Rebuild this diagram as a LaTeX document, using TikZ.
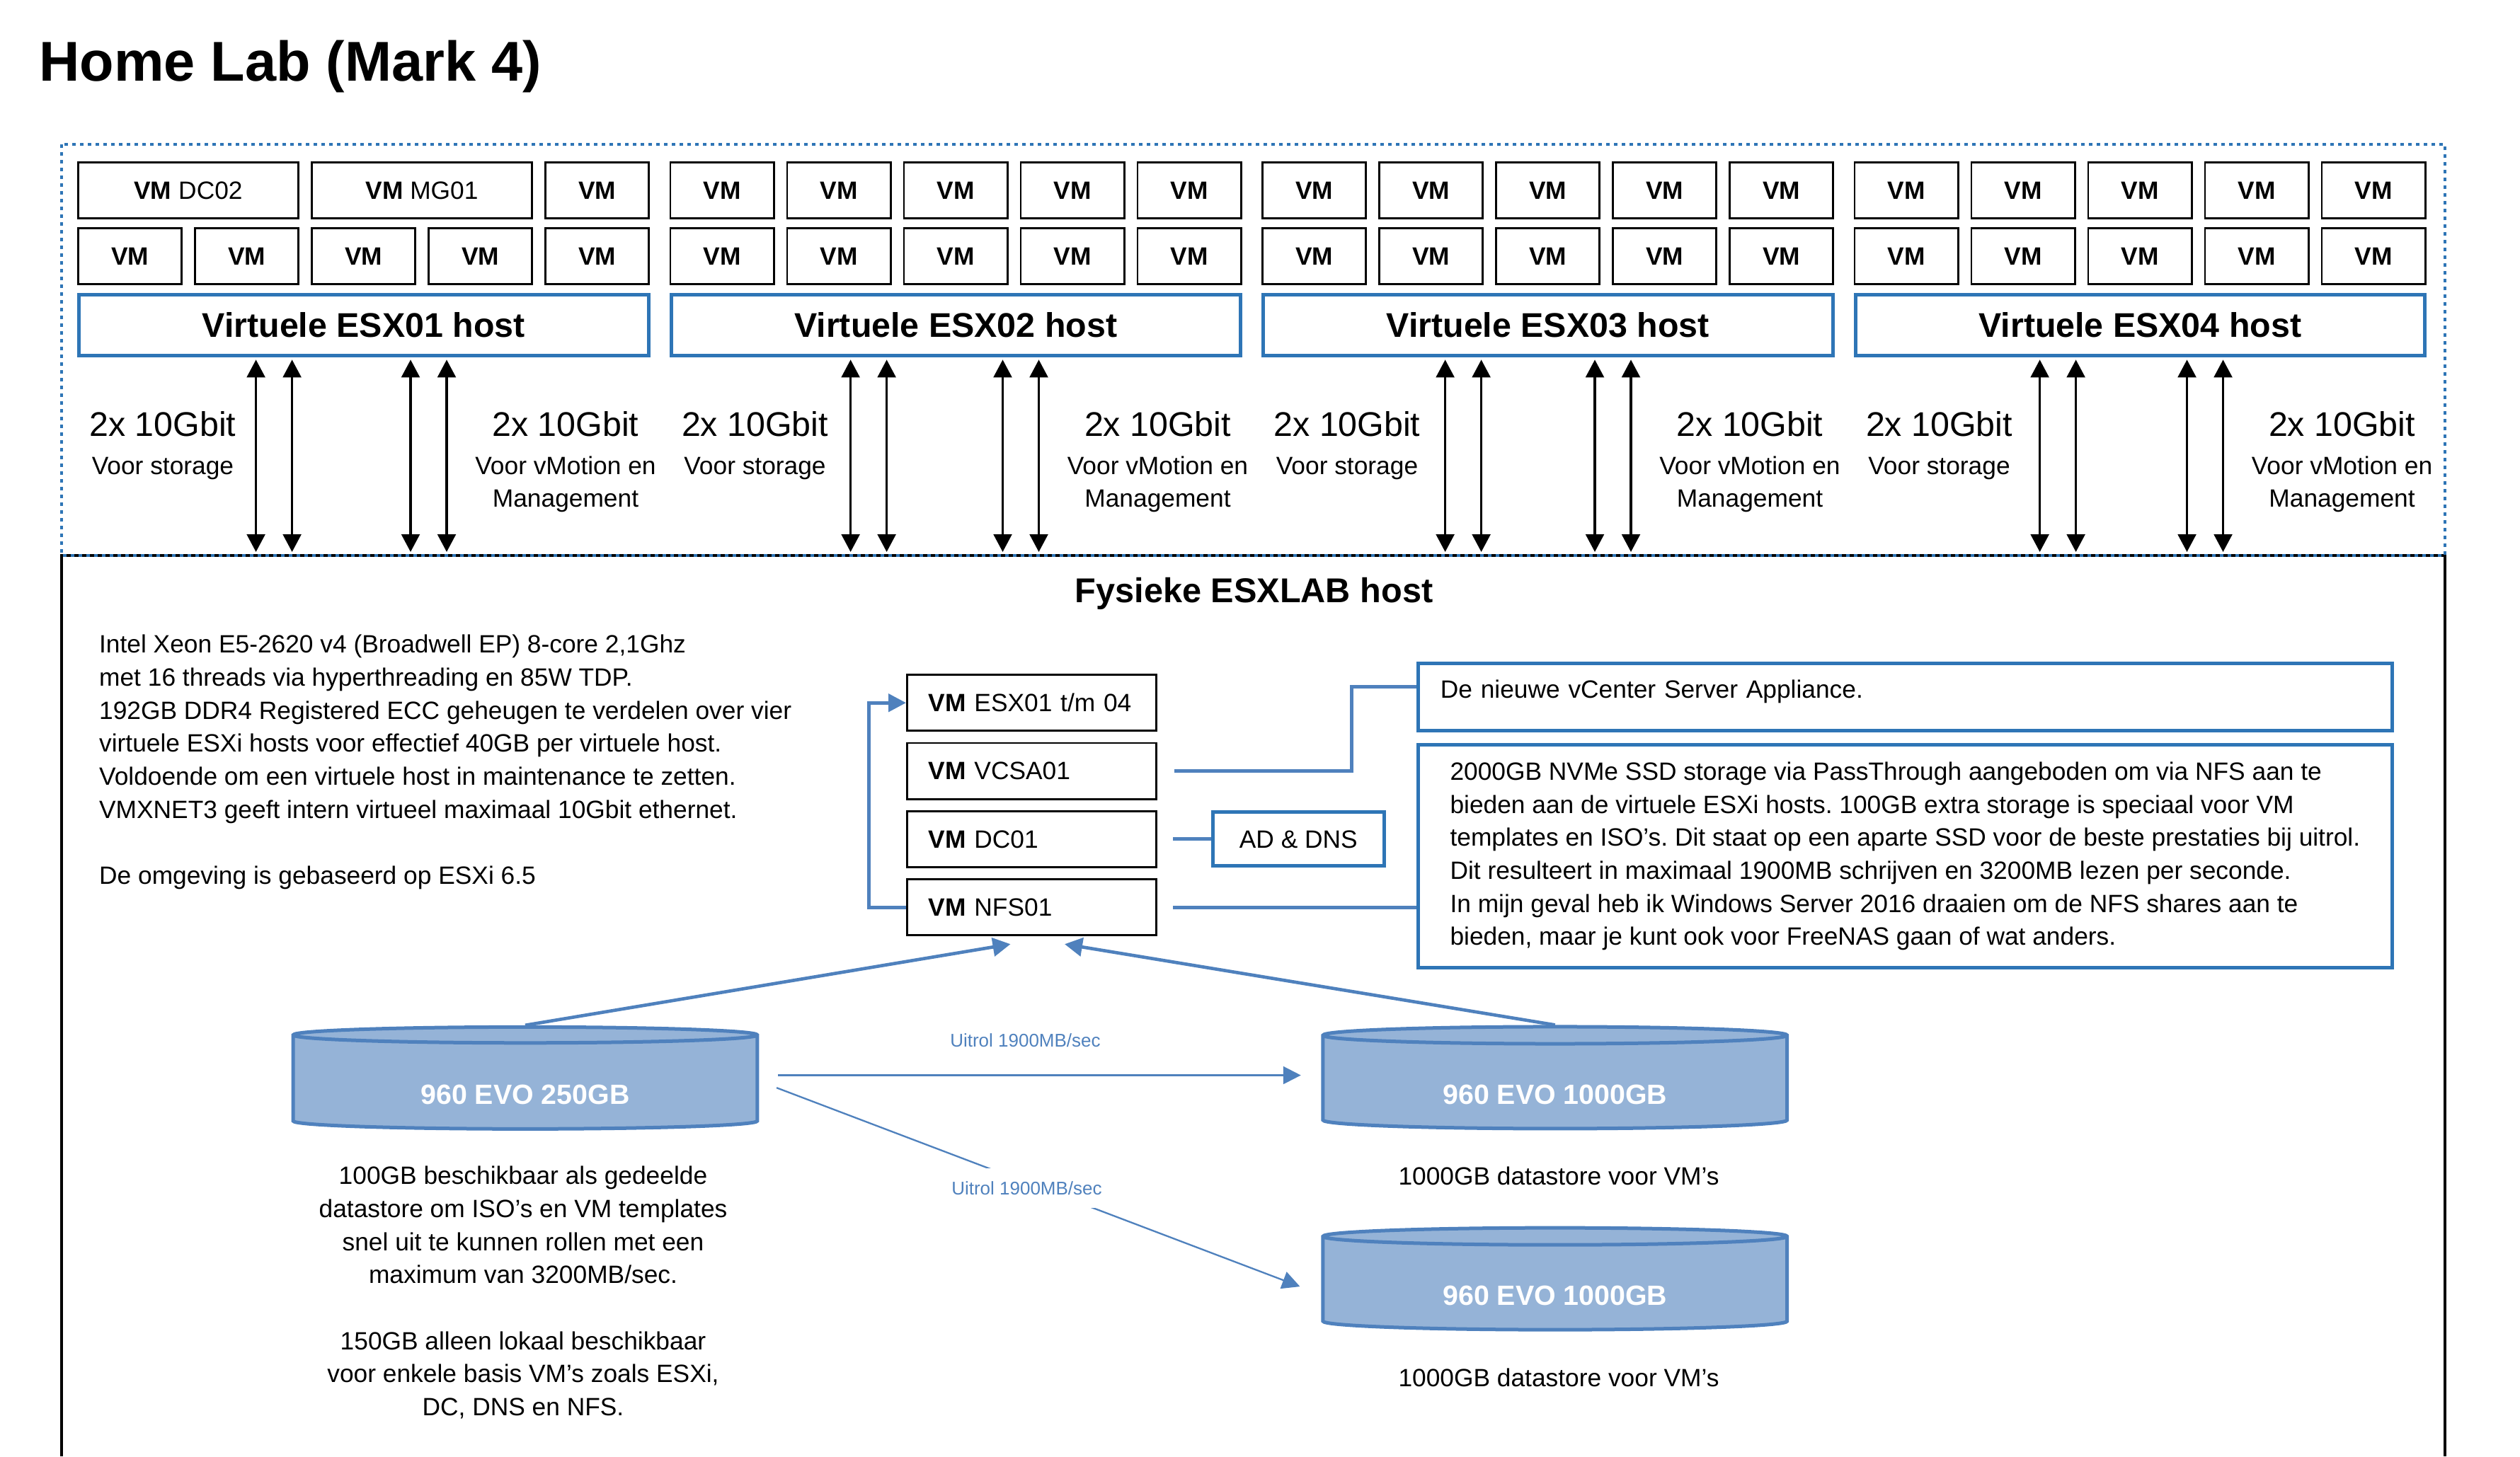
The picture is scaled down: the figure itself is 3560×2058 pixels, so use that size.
\documentclass[tikz,border=0pt]{standalone}
\usepackage{fontspec}
\setmainfont{Liberation Sans}
\usetikzlibrary{positioning, calc, arrows.meta, shapes.geometric}
\definecolor{hostblue}{RGB}{46,117,182}
\definecolor{linkblue}{RGB}{79,129,189}
\definecolor{diskblue}{RGB}{149,179,215}
\frenchspacing

\begin{document}
\begin{tikzpicture}[x=0.3pt, y=-0.3pt,
vmbox/.style={rectangle, draw=black, line width=0.85pt, minimum width=43.85pt,
minimum height=23.75pt, inner sep=0pt, font=\fontsize{10.6pt}{12pt}\selectfont},
hostbox/.style={rectangle, draw=hostblue, line width=1.5pt, minimum width=241.35pt,
minimum height=25.8pt, inner sep=0pt, font=\fontsize{14.5pt}{17pt}\selectfont\bfseries},
netarrow/.style={{Triangle[length=7.5pt,width=7.7pt]}-{Triangle[length=7.5pt,width=7.7pt]},
line width=1pt, shorten <=1pt, shorten >=1.5pt},
gbit/.style={anchor=base, inner sep=0pt, font=\fontsize{14.5pt}{17pt}\selectfont},
sublabel/.style={anchor=base, inner sep=0pt, font=\fontsize{10.6pt}{13pt}\selectfont},
bodytext/.style={inner sep=0pt, align=left, font=\fontsize{10.6pt}{14pt}\selectfont},
stackbox/.style={rectangle, draw=black, line width=0.85pt, minimum width=105.65pt,
minimum height=23.75pt, inner sep=0pt, text width=87.5pt, align=left,
font=\fontsize{10.6pt}{12pt}\selectfont},
infobox/.style={rectangle, draw=hostblue, line width=1.5pt, inner sep=0pt,
font=\fontsize{10.6pt}{14pt}\selectfont},
link/.style={linkblue, line width=1.5pt},
flow/.style={linkblue, line width=1.4pt, -{Triangle[length=7.5pt,width=7.8pt]}},
thinflow/.style={linkblue, line width=0.7pt, -{Triangle[length=7.5pt,width=7.5pt]}},
disk/.style={cylinder, shape border rotate=90, aspect=0.076, draw=linkblue, fill=diskblue,
line width=1.5pt, minimum width=196.7pt, minimum height=43.2pt, inner sep=0pt,
text height=18pt, text depth=0pt,
text=white, font=\fontsize{11.8pt}{14pt}\selectfont\bfseries},
uitrol/.style={inner sep=0pt, text=linkblue, font=\fontsize{7.8pt}{9pt}\selectfont}
]
\useasboundingbox (0,0) rectangle (3560,2058);

% Title
\node[anchor=base west, inner sep=0pt, font=\fontsize{23.8pt}{28pt}\selectfont\bfseries]
(title) at (54.6,114.3) {Home Lab (Mark 4)};

% Frames
\coordinate (phystop) at (87,785);
\draw[line width=1.3pt] (87,2058) -- (phystop) -- (3454,785) -- (3454,2058);
\draw[hostblue, line width=1.2pt, dash pattern=on 1.4pt off 1.9pt] (87.4,204) rectangle (3454,785);

% Virtual hosts
\foreach \i in {0,...,3} {
  \pgfmathsetmacro\L{109+836.5*\i}
  \pgfmathtruncatemacro\n{\i+1}
  \node[hostbox] (host\n) at (\L+404.75,459.5) {Virtuele ESX0\n\ host};
  \foreach \j in {0,...,4} {
    \node[vmbox] (vmb\n\j) at (\L+74.5+165*\j,362) {\textbf{VM}};
  }
  \ifnum\n>1
    \foreach \j in {0,...,4} {
      \node[vmbox] (vma\n\j) at (\L+74.5+165*\j,269) {\textbf{VM}};
    }
  \fi
  % Network links
  \pgfmathsetmacro\s{252.6+3.5*\i}
  \foreach \dx in {\s, \s+51, 471, 522} {
    \draw[netarrow] ([xshift={(\dx)*0.3pt}]host\n.south west)
      -- ([xshift={(\dx)*0.3pt}]host\n.south west |- phystop);
  }
  \node[gbit] (gbs\n) at (\L+121,616) {2x 10Gbit};
  \node[sublabel] (stor\n) at (\L+121,670) {Voor storage};
  \node[gbit] (gbm\n) at (\L+690,616) {2x 10Gbit};
  \node[sublabel] (vmot\n) at (\L+690,670) {Voor vMotion en};
  \node[sublabel] (mgmt\n) at (\L+690,716) {Management};
}
\node[vmbox, minimum width=93.35pt] (dc02) at (266,269) {\textbf{VM} DC02};
\node[vmbox, minimum width=93.35pt] (mg01) at (596,269) {\textbf{VM} MG01};
\node[vmbox] (vma14) at (843.5,269) {\textbf{VM}};

% Physical host
\node[anchor=base, inner sep=0pt, font=\fontsize{14.6pt}{17pt}\selectfont\bfseries]
(phystitle) at (1771.5,851.7) {Fysieke ESXLAB host};

\node[bodytext, anchor=base west] (cpu) at (139.5,1249.5)
{Intel Xeon E5-2620 v4 (Broadwell EP) 8-core 2,1Ghz\\
met 16 threads via hyperthreading en 85W TDP.\\
192GB DDR4 Registered ECC geheugen te verdelen over vier\\
virtuele ESXi hosts voor effectief 40GB per virtuele host.\\
Voldoende om een virtuele host in maintenance te zetten.\\
VMXNET3 geeft intern virtueel maximaal 10Gbit ethernet.\\[14pt]
De omgeving is gebaseerd op ESXi 6.5};

% VM stack
\node[stackbox] (esx) at (1457.5,993.2) {\textbf{VM} ESX01 t/m 04};
\node[stackbox, below=4.3pt of esx] (vcsa) {\textbf{VM} VCSA01};
\node[stackbox, below=4.3pt of vcsa] (dc01) {\textbf{VM} DC01};
\node[stackbox, below=4.3pt of dc01] (nfs) {\textbf{VM} NFS01};
\node[infobox, minimum width=72.5pt, minimum height=22.8pt, right=22.8pt of dc01] (adns) {AD \& DNS};

\node[infobox, minimum width=412.9pt, minimum height=28.5pt, text width=393.9pt,
align=left, text depth=6.6pt] (vcenter) at (2691.4,985) {De nieuwe vCenter Server Appliance.};
\node[infobox, minimum width=412.9pt, minimum height=94.5pt, align=left] (nfsinfo) at (2691.4,1210)
{2000GB NVMe SSD storage via PassThrough aangeboden om via NFS aan te\\
bieden aan de virtuele ESXi hosts. 100GB extra storage is speciaal voor VM\\
templates en ISO’s. Dit staat op een aparte SSD voor de beste prestaties bij uitrol.\\
Dit resulteert in maximaal 1900MB schrijven en 3200MB lezen per seconde.\\
In mijn geval heb ik Windows Server 2016 draaien om de NFS shares aan te\\
bieden, maar je kunt ook voor FreeNAS gaan of wat anders.};

% Links
\draw[link, -{Triangle[length=7.5pt,width=7.5pt]}] (nfs.west) -- ++(-52.4,0) |- (esx.west);
\draw[link] ([xshift=7.2pt]vcsa.east) -- ++(250,0) |- ([yshift=4.3pt]vcenter.west);
\draw[link] ([xshift=6.7pt]dc01.east) -- (adns.west);
\draw[link] ([xshift=6.7pt]nfs.east) -- (nfs.east -| nfsinfo.west);

% Disks
\node[disk] (disk250) at (742,1530.2) {960 EVO 250GB};
\node[disk] (disk1000a) at (2196.8,1530.2) {960 EVO 1000GB};
\node[disk] (disk1000b) at (2196.8,1814.4) {960 EVO 1000GB};

\draw[flow] (disk250.north) -- ($(nfs.south)+(-30,11)$);
\draw[flow] (disk1000a.north) -- ($(nfs.south)+(46.5,11)$);
\draw[thinflow] ([xshift=8pt,yshift=3.2pt]disk250.east)
  -- node[uitrol, pos=0.473, above=11.5pt] (uitrolA) {Uitrol 1900MB/sec}
  ([xshift=-8.6pt,yshift=3.2pt]disk1000a.west);
\draw[thinflow] ([xshift=7.4pt,yshift=-2.1pt]disk250.east)
  -- node[uitrol, fill=white, pos=0.478, yshift=-2.3pt, inner xsep=2pt, inner ysep=5.5pt] (uitrolB) {Uitrol 1900MB/sec}
  ([xshift=-9pt,yshift=-1.1pt]disk1000b.west);

\node[bodytext, align=center, anchor=base] (cap250) at (739,2000.5)
{100GB beschikbaar als gedeelde\\
datastore om ISO’s en VM templates\\
snel uit te kunnen rollen met een\\
maximum van 3200MB/sec.\\[14pt]
150GB alleen lokaal beschikbaar\\
voor enkele basis VM’s zoals ESXi,\\
DC, DNS en NFS.};
\node[bodytext, align=center, anchor=base] (cap1000a) at (2202,1674.6) {1000GB datastore voor VM’s};
\node[bodytext, align=center, anchor=base] (cap1000b) at (2202,1959.9) {1000GB datastore voor VM’s};

\end{tikzpicture}
\end{document}
